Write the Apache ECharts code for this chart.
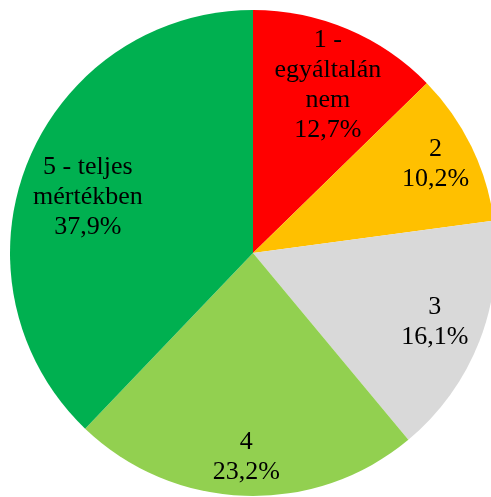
<!DOCTYPE html>
<html>
<head>
<meta charset="utf-8">
<script src="https://cdn.jsdelivr.net/npm/echarts@6/dist/echarts.min.js"></script>
<style>
  html, body { margin: 0; padding: 0; background: #fff; }
  #chart { width: 491px; height: 497px; }
</style>
</head>
<body>
<div id="chart"></div>
<script>
var categories = ['1 -\negyáltalán\nnem', '2', '3', '4', '5 - teljes\nmértékben'];
var values = [12.7, 10.2, 16.1, 23.2, 37.9];
var colors = ['#FF0000', '#FFC000', '#D9D9D9', '#92D050', '#00B050'];
// small label nudges (px), to mimic the spreadsheet's label placement
var labelNudge = [[0, 10], [9, -4], [2, -1], [0, 11], [14, 16]];

var myChart = echarts.init(document.getElementById('chart'));
myChart.setOption({
    backgroundColor: '#FFFFFF',
    animation: false,
    textStyle: { fontFamily: 'Liberation Serif' },
    series: [
        {
            type: 'pie',
            center: [253, 253],
            radius: [0, 243],
            startAngle: 90,
            clockwise: true,
            silent: true,
            label: { show: false },
            labelLine: { show: false },
            data: categories.map(function (c, i) {
                return { name: c, value: values[i], itemStyle: { color: colors[i] } };
            })
        },
        {
            // transparent ring, only used to place the labels further out
            type: 'pie',
            center: [253, 253],
            radius: [137, 243],
            startAngle: 90,
            clockwise: true,
            silent: true,
            itemStyle: { color: 'rgba(0,0,0,0)' },
            label: {
                show: true,
                position: 'inside',
                fontFamily: 'Liberation Serif',
                fontSize: 26,
                lineHeight: 30,
                color: '#000',
                formatter: function (p) {
                    return p.name + '\n' + p.value.toFixed(1).replace('.', ',') + '%';
                }
            },
            labelLine: { show: false },
            data: categories.map(function (c, i) {
                return {
                    name: c, value: values[i],
                    label: { offset: labelNudge[i] }
                };
            })
        }
    ]
});
</script>
</body>
</html>
